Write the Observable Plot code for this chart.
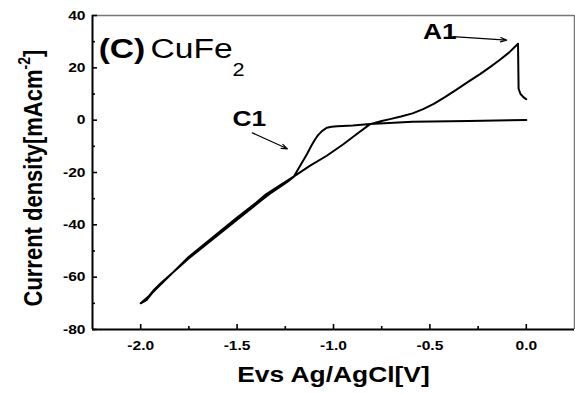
<!DOCTYPE html>
<html>
<head>
<meta charset="utf-8">
<script src="https://cdn.jsdelivr.net/npm/d3@7"></script>
<script src="https://cdn.jsdelivr.net/npm/@observablehq/plot@0.6"></script>
<style>
  html, body { margin: 0; padding: 0; background: #fff; }
</style>
</head>
<body>
<script>
// Cathodic (forward) sweep: potential (V) and current density (mA/cm2)
const forwardV = [0.0, -0.3, -0.59, -0.81, -0.9, -0.98, -1.01, -1.035, -1.06, -1.08, -1.095, -1.115, -1.138, -1.173, -1.207, -1.24, -1.28, -1.33, -1.38, -1.5, -1.75, -1.9, -1.93, -1.96, -2.0];
const forwardI = [0.1, -0.3, -0.6, -1.5, -2.0, -2.3, -2.5, -2.9, -4.2, -5.7, -7.3, -9.8, -13.0, -17.4, -21.7, -23.6, -25.6, -28.1, -31.0, -38.0, -52.8, -62.6, -64.8, -67.4, -70.0];
// Anodic (return) sweep
const returnV = [-2.0, -1.97, -1.94, -1.91, -1.75, -1.5, -1.4, -1.35, -1.28, -1.207, -1.121, -1.035, -0.949, -0.879, -0.81, -0.75, -0.707, -0.65, -0.59, -0.535, -0.48, -0.42, -0.36, -0.3, -0.24, -0.19, -0.14, -0.09, -0.043, -0.04, -0.03, -0.015, 0.0];
const returnI = [-70.0, -68.8, -66.0, -63.8, -52.2, -37.2, -31.5, -28.3, -25.0, -21.6, -17.4, -13.6, -9.2, -5.3, -1.5, -0.3, 0.4, 1.4, 2.6, 4.2, 6.2, 8.9, 11.8, 14.7, 17.6, 20.2, 22.9, 25.8, 29.2, 12.0, 10.0, 8.8, 8.0];

const xDomain = [-2.25, 0.25];
const yDomain = [-80, 40];
const xMajor = [-2.0, -1.5, -1.0, -0.5, 0.0];
const xMinor = [-1.75, -1.25, -0.75, -0.25];
const yMajor = [-80, -60, -40, -20, 0, 20, 40];
const yMinor = [-70, -50, -30, -10, 10, 30];

const xTitle = "Evs Ag/AgCl[V]";
const yTitleMain = "Current density[mAcm";
const yTitleSup = "-2";
const yTitleEnd = "]";

// annotation labels (data coordinates of text start / baseline)
const labelText = ["(C)", "CuFe", "2", "A1", "C1"];
const labelX = [-2.218, -1.949, -1.5245, -0.536, -1.524];
const labelY = [23.8, 23.8, 16.9, 31.0, -2.2];
const labelSize = [28, 28, 18, 22, 22];
const labelWeight = ["bold", "normal", "normal", "bold", "bold"];

// annotation arrows
const arrowX1 = [-0.381, -1.421];
const arrowY1 = [31.9, -4.85];
const arrowX2 = [-0.102, -1.239];
const arrowY2 = [30.6, -10.95];

const cv = [
  ...forwardV.map((v, i) => ({V: v, I: forwardI[i]})),
  ...returnV.map((v, i) => ({V: v, I: returnI[i]}))
];
const labels = labelText.map((t, i) => ({t, x: labelX[i], y: labelY[i], s: labelSize[i], w: labelWeight[i]}));
const arrows = arrowX1.map((x1, i) => ({x1, y1: arrowY1[i], x2: arrowX2[i], y2: arrowY2[i]}));

const fmtX = d => d.toFixed(1);
const fmtY = d => String(d);

const plot = Plot.plot({
  width: 575,
  height: 394,
  marginLeft: 92,
  marginRight: 1,
  marginTop: 15,
  marginBottom: 65,
  style: {fontFamily: "'Liberation Sans', Arial, sans-serif", fontSize: "13px", fontWeight: "bold", color: "black", background: "white"},
  x: {domain: xDomain},
  y: {domain: yDomain},
  marks: [
    // frame
    Plot.ruleY([yDomain[1]], {stroke: "#777", strokeWidth: 1.5}),
    Plot.ruleX([xDomain[1]], {stroke: "#777", strokeWidth: 1.5}),
    Plot.ruleX([xDomain[0]], {stroke: "black", strokeWidth: 2}),
    Plot.ruleY([yDomain[0]], {stroke: "black", strokeWidth: 2}),
    // inward ticks
    Plot.axisX(xMajor, {anchor: "bottom", tickSize: 5, dy: -5, fill: "none", strokeWidth: 1.6, label: null}),
    Plot.axisX(xMinor, {anchor: "bottom", tickSize: 3, dy: -3, fill: "none", strokeWidth: 1.6, label: null}),
    Plot.axisY(yMajor, {anchor: "left", tickSize: 5, dx: 5, fill: "none", strokeWidth: 1.6, label: null}),
    Plot.axisY(yMinor, {anchor: "left", tickSize: 3, dx: 3, fill: "none", strokeWidth: 1.6, label: null}),
    // tick labels
    Plot.axisX(xMajor, {anchor: "bottom", tickSize: 0, tickPadding: 11, tickFormat: fmtX, label: null, fontWeight: "bold", fontSize: 13}),
    Plot.axisY(yMajor, {anchor: "left", tickSize: 0, tickPadding: 7, tickFormat: fmtY, label: null, fontWeight: "bold", fontSize: 13}),
    // axis titles
    Plot.text([xTitle], {frameAnchor: "bottom", dy: 52, fontSize: 22, fontWeight: "bold", fill: "black"}),
    Plot.text([yTitleMain + yTitleSup + yTitleEnd], {frameAnchor: "left", rotate: -90, dx: -59, dy: 134, textAnchor: "start", fontSize: 22, fontWeight: "bold", fill: "black"}),
    // data
    Plot.line(cv, {x: "V", y: "I", stroke: "black", strokeWidth: 2, strokeLinejoin: "round"}),
    // annotations
    Plot.arrow(arrows, {x1: "x1", y1: "y1", x2: "x2", y2: "y2", stroke: "black", strokeWidth: 1.2, headLength: 8, headAngle: 40}),
    Plot.text(labels, {x: "x", y: "y", text: "t", textAnchor: "start", lineAnchor: "bottom", fill: "black"})
  ]
});

document.body.appendChild(plot);

// per-label font size / weight
plot.querySelectorAll("text").forEach(t => {
  const d = labels.find(l => l.t === t.textContent);
  if (d && !t.closest("[aria-label*='axis']")) { t.style.fontSize = d.s + "px"; t.style.fontWeight = d.w; }
});

// superscript in y title
const ns = "http://www.w3.org/2000/svg";
plot.querySelectorAll("text").forEach(t => {
  if (t.textContent === yTitleMain + yTitleSup + yTitleEnd) {
    t.textContent = "";
    const a = document.createElementNS(ns, "tspan"); a.textContent = yTitleMain; t.appendChild(a);
    const b = document.createElementNS(ns, "tspan"); b.textContent = yTitleSup; b.setAttribute("dy", "-10"); b.style.fontSize = "14px"; t.appendChild(b);
    const c = document.createElementNS(ns, "tspan"); c.textContent = yTitleEnd; c.setAttribute("dy", "10"); t.appendChild(c);
  }
});

// horizontal stretch of all text as in the reference
const S = 1.2;
plot.querySelectorAll("text").forEach(t => {
  const tr = t.getAttribute("transform") || "";
  const bb = t.getBBox();
  if (/rotate/.test(tr)) {
    t.setAttribute("transform", `${tr} scale(1,${S})`);
  } else {
    const anchor = getComputedStyle(t).textAnchor;
    const px = anchor === "end" ? bb.x + bb.width : anchor === "middle" ? bb.x + bb.width / 2 : bb.x;
    t.setAttribute("transform", `${tr} translate(${px},0) scale(${S},1) translate(${-px},0)`);
  }
});
</script>
</body>
</html>
